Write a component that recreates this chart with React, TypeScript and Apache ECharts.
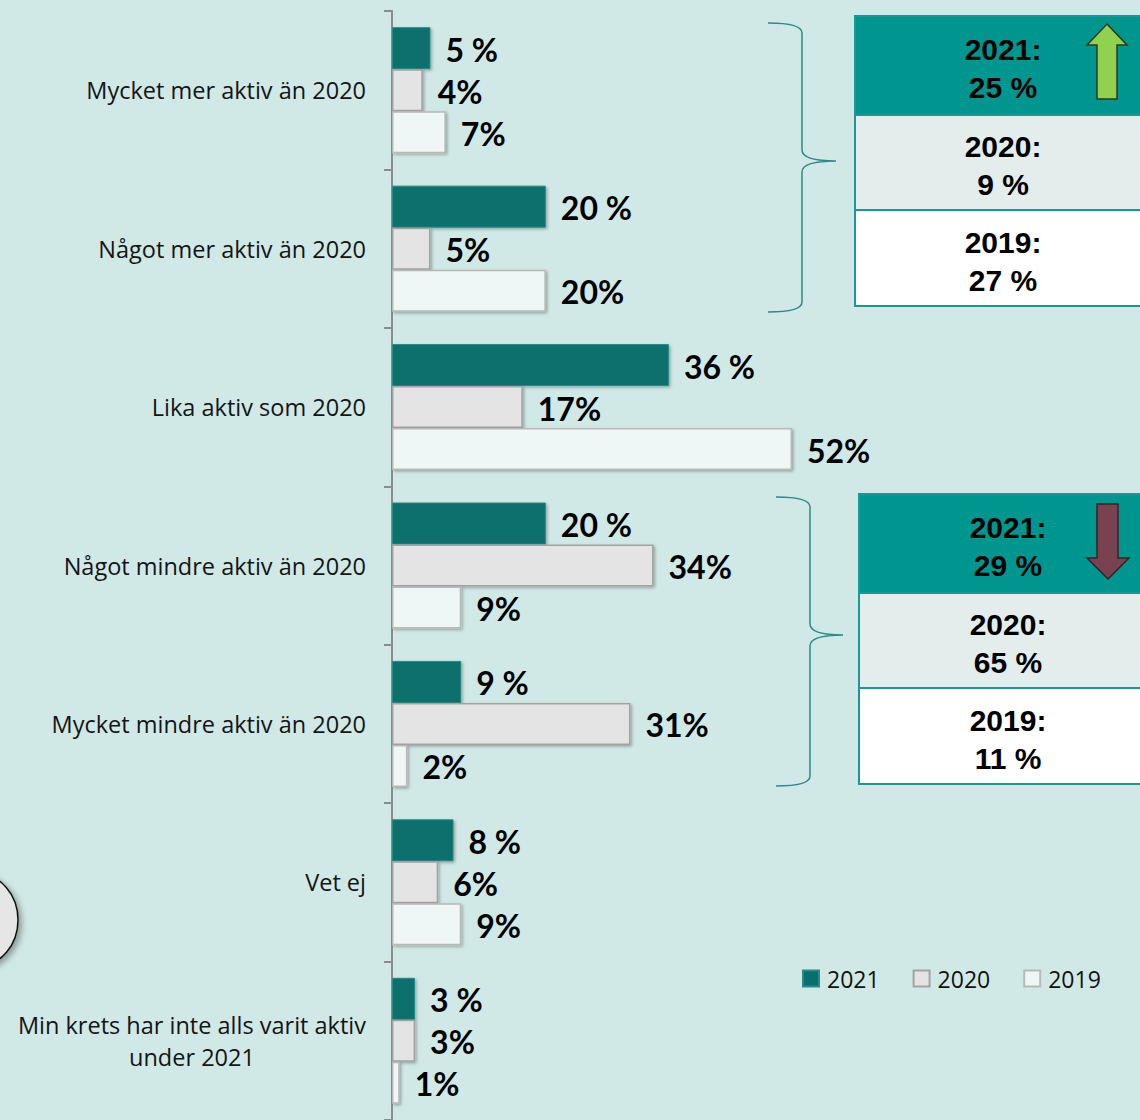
import React, { useEffect, useRef } from "react";
import * as echarts from "echarts";

const categories = [
  "Mycket mer aktiv än 2020",
  "Något mer aktiv än 2020",
  "Lika aktiv som 2020",
  "Något mindre aktiv än 2020",
  "Mycket mindre aktiv än 2020",
  "Vet ej",
  "Min krets har inte alls varit aktiv\nunder 2021",
];
const values2021 = [5, 20, 36, 20, 9, 8, 3];
const values2020 = [4, 5, 17, 34, 31, 6, 3];
const values2019 = [7, 20, 52, 9, 2, 9, 1];

const boxUp = ["2021:\n25 %", "2020:\n9 %", "2019:\n27 %"];
const boxDown = ["2021:\n29 %", "2020:\n65 %", "2019:\n11 %"];

function bracePath(x0: number, x1: number, xt: number, yt: number, ym: number, yb: number) {
  return `M ${x0} ${yt} Q ${x1} ${yt} ${x1} ${yt + 10} L ${x1} ${ym - 11} Q ${x1} ${ym} ${xt} ${ym} Q ${x1} ${ym} ${x1} ${ym + 11} L ${x1} ${yb - 10} Q ${x1} ${yb} ${x0} ${yb}`;
}

let registered = false;
function registerShapes() {
  if (registered) return;
  registered = true;
  echarts.graphic.registerShape("brace1", echarts.graphic.extendPath(bracePath(768, 802, 836, 23, 161, 312), {}));
  echarts.graphic.registerShape("brace2", echarts.graphic.extendPath(bracePath(776, 810, 843, 497, 635, 786), {}));
}

function boxGraphics(x: number, y: number, w: number, rowH: number[], texts: string[], tx: number) {
  const colors = ["#009690", "#e3eeec", "#ffffff"];
  const els: any[] = [];
  let cy = y;
  rowH.forEach((h, i) => {
    els.push({
      type: "rect",
      shape: { x, y: cy, width: w, height: h },
      style: { fill: colors[i], stroke: "#169a93", lineWidth: 2 },
    });
    els.push({
      type: "text",
      x: tx,
      y: cy + h / 2 + 3,
      style: {
        text: texts[i],
        fill: "#000",
        font: "bold 30px 'Liberation Sans', Arial, sans-serif",
        align: "center",
        verticalAlign: "middle",
        lineHeight: 38,
      },
    });
    cy += h;
  });
  return els;
}

export default function App() {
  const ref = useRef<HTMLDivElement>(null);
  useEffect(() => {
    document.body.style.margin = "0";
    registerShapes();
    const chart = echarts.init(ref.current!, null, { renderer: "svg" });
    const pxPerPct = 400 / 52;
    const xMax = 60;
    const labelFont = { fontFamily: "Lato", fontWeight: "bold" as const, fontSize: 32, color: "#000" };
    const shadow = { shadowColor: "rgba(0,0,0,0.3)", shadowBlur: 3, shadowOffsetX: 1.5, shadowOffsetY: 1.5 };
    const axisFont = "Open Sans";
    chart.setOption({
      animation: false,
      backgroundColor: "#d1e9e6",
      grid: { left: 392, top: 11, width: xMax * pxPerPct, height: 1112, containLabel: false },
      xAxis: { type: "value", min: 0, max: xMax, show: false, splitLine: { show: false } },
      yAxis: {
        type: "category",
        inverse: true,
        data: categories,
        axisLine: { show: true, lineStyle: { color: "#8c8c8c", width: 2 } },
        axisTick: { show: true, length: 8, lineStyle: { color: "#8c8c8c", width: 2 } },
        axisLabel: {
          margin: 26,
          color: "#141414",
          fontFamily: axisFont,
          fontSize: 23.5,
          formatter: (v: string) => v.split("\n").map((l) => `{c|${l}}`).join("\n"),
          rich: { c: { align: "center", fontFamily: axisFont, fontSize: 23.5, color: "#141414", lineHeight: 32 } },
        },
      },
      legend: {
        left: 797,
        top: 962,
        icon: "rect",
        itemWidth: 16,
        itemHeight: 16,
        itemGap: 33,
        textStyle: { fontFamily: axisFont, fontSize: 23, color: "#111", padding: [0, 0, 0, 3] },
        data: ["2021", "2020", "2019"],
      },
      series: [
        {
          name: "2021",
          type: "bar",
          data: values2021,
          barWidth: 42,
          barGap: "0%",
          itemStyle: { color: "#07706c", borderColor: "#2a8a86", borderWidth: 1, ...shadow },
          label: { show: true, position: "right", distance: 15, offset: [0, 1], formatter: "{c} %", ...labelFont },
        },
        {
          name: "2020",
          type: "bar",
          data: values2020,
          barWidth: 42,
          barGap: "0%",
          itemStyle: { color: "#e4e4e4", borderColor: "#a3a3a3", borderWidth: 1.5, ...shadow },
          label: { show: true, position: "right", distance: 15, offset: [0, 1], formatter: "{c}%", ...labelFont },
        },
        {
          name: "2019",
          type: "bar",
          data: values2019,
          barWidth: 42,
          barGap: "0%",
          itemStyle: { color: "#eef7f6", borderColor: "#b9b9b9", borderWidth: 1.5, ...shadow },
          label: { show: true, position: "right", distance: 15, offset: [0, 1], formatter: "{c}%", ...labelFont },
        },
      ],
      graphic: [
        {
          type: "ellipse",
          shape: { cx: -22, cy: 920, rx: 40, ry: 46 },
          style: { fill: "#e6e6e6", stroke: "#111", lineWidth: 1.5, shadowColor: "rgba(0,0,0,0.35)", shadowBlur: 6, shadowOffsetX: 3, shadowOffsetY: 3 },
        },
        { type: "brace1", style: { fill: "none", stroke: "#2a8c88", lineWidth: 1.5 } },
        { type: "brace2", style: { fill: "none", stroke: "#2a8c88", lineWidth: 1.5 } },
        ...boxGraphics(855, 16, 290, [99, 95, 96], boxUp, 1003),
        ...boxGraphics(859, 494, 290, [99, 95, 96], boxDown, 1008),
        {
          type: "polygon",
          shape: { points: [[1107, 24], [1127, 45], [1117, 45], [1117, 99], [1097, 99], [1097, 45], [1087, 45]] },
          style: { fill: "#92d050", stroke: "#2b3a1f", lineWidth: 1.5 },
        },
        {
          type: "polygon",
          shape: { points: [[1097, 504], [1118, 504], [1118, 558], [1129, 558], [1108, 579], [1087, 558], [1097, 558]] },
          style: { fill: "#7a4250", stroke: "#3a2026", lineWidth: 1.5 },
        },
      ],
    });
    return () => chart.dispose();
  }, []);
  return <div ref={ref} style={{ width: 1140, height: 1120 }} />;
}
